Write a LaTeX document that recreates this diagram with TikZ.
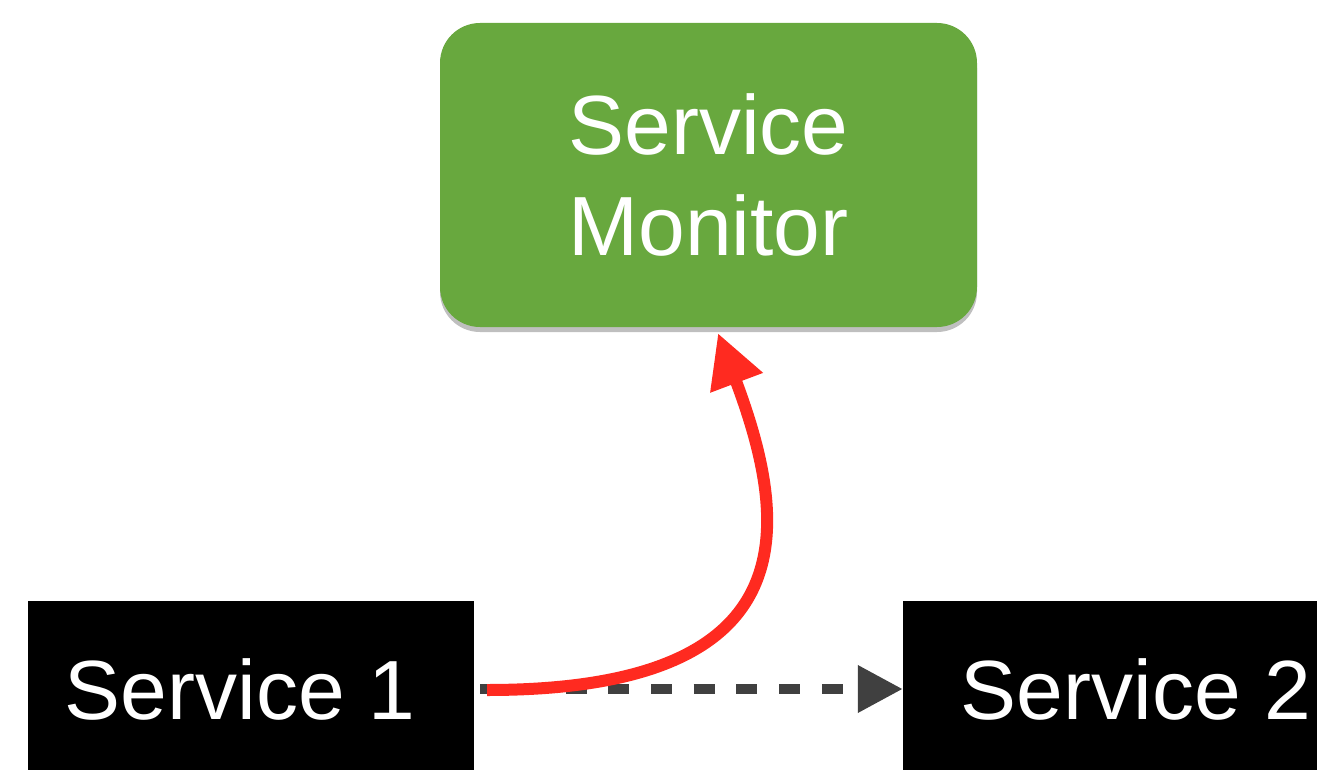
\documentclass[tikz,border=0pt]{standalone}
\usepackage{fontspec}
\setmainfont{Liberation Sans}
\usetikzlibrary{arrows.meta,shadows}
\definecolor{mongreen}{RGB}{104,168,62}
\definecolor{arrowred}{RGB}{255,42,32}
\definecolor{dashgray}{RGB}{64,64,64}
\tikzset{
  svcbox/.style={fill=black, text=white, minimum width=446pt, minimum height=176pt,
    inner sep=0pt, font=\fontsize{84}{100}\selectfont},
  monbox/.style={fill=mongreen, text=white, rounded corners=40pt, minimum width=537pt,
    minimum height=304pt, inner sep=0pt, align=center, font=\fontsize{84}{101}\selectfont,
    drop shadow={shadow xshift=0pt, shadow yshift=-5pt, opacity=0.25, fill=black}},
  callline/.style={draw=dashgray, line width=10pt, dash pattern=on 21pt off 21.7pt,
    -{Triangle[length=45pt, width=45pt]}},
  reportline/.style={draw=arrowred, line width=12pt,
    -{Triangle[length=53pt, width=53pt]}}
}
\begin{document}
\begin{tikzpicture}[x=1pt, y=-1pt]
\useasboundingbox (0,0) rectangle (1317,770);
\clip (0,0) rectangle (1317,770);
\node[monbox] (mon) at (708.5,175) {Service\\Monitor};
\node[svcbox] (s1) at (251,689) {Service 1\hspace*{22pt}};
\node[svcbox] (s2) at (1126,689) {\hspace*{20pt}Service 2};
\draw[callline] ([xshift=6pt]s1.east) -- (s2.west);
\draw[reportline] ([xshift=13pt,yshift=-1pt]s1.east) .. controls (810,690) and (790,525) .. ([xshift=9.5pt,yshift=-6pt]mon.south);
\end{tikzpicture}
\end{document}
